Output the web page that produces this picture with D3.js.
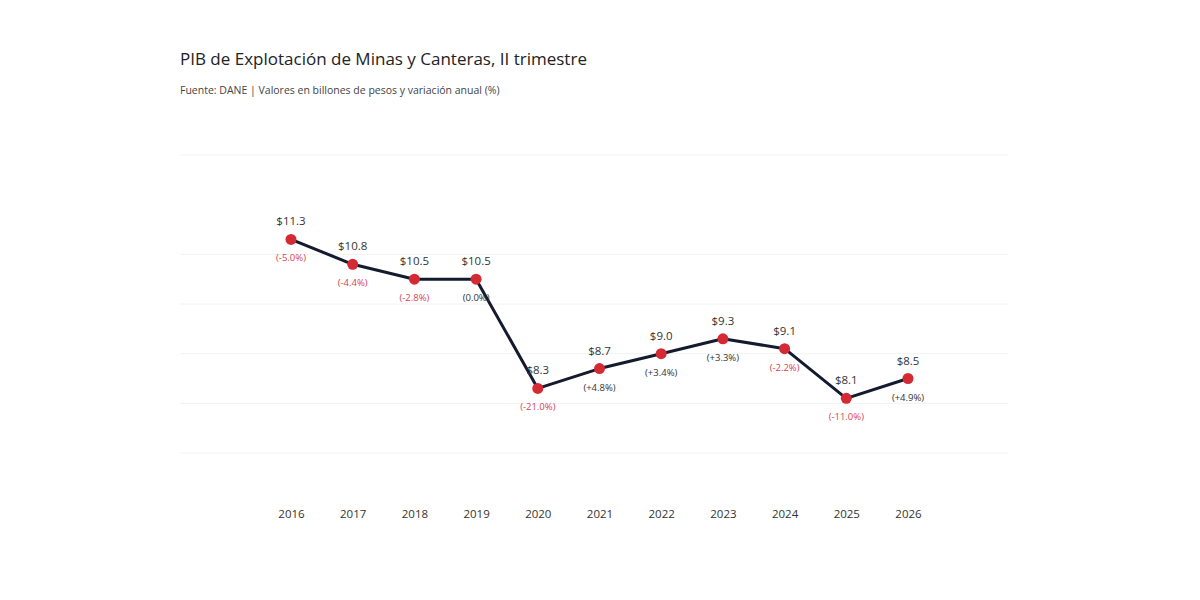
<!DOCTYPE html>
<html><head><meta charset="utf-8">
<script src="https://cdn.jsdelivr.net/npm/d3@7"></script>
<style>
html,body{margin:0;padding:0;background:#fff;}
svg{display:block;font-family:"Open Sans","Noto Sans",sans-serif;}
</style></head>
<body><svg id="c" width="1200" height="600"></svg>
<script>
const years = ["2016","2017","2018","2019","2020","2021","2022","2023","2024","2025","2026"];
const values = [11.3,10.8,10.5,10.5,8.3,8.7,9.0,9.3,9.1,8.1,8.5];
const changes = [-5.0,-4.4,-2.8,0.0,-21.0,4.8,3.4,3.3,-2.2,-11.0,4.9];
const gridTicks = [7,8,9,10,11,13];
const yDomain = [7,13];

(function(){
const svg = d3.select("#c");
const gLeft = 180, gRight = 1008, pTop = 155, pBottom = 453;

const x = d3.scalePoint().domain(years).range([291, 908]);
const y = d3.scaleLinear().domain(yDomain).range([pBottom, pTop]);

svg.append("text").attr("x",180).attr("y",65).attr("font-size",17).attr("fill","#222")
  .text("PIB de Explotación de Minas y Canteras, II trimestre");
svg.append("text").attr("x",180).attr("y",94).attr("font-size",10.5).attr("fill","#444")
  .text("Fuente: DANE | Valores en billones de pesos y variación anual (%)");

svg.append("g").selectAll("line").data(gridTicks).join("line")
  .attr("x1",gLeft).attr("x2",gRight)
  .attr("y1",d=>y(d)).attr("y2",d=>y(d))
  .attr("stroke","#f2f2f2").attr("stroke-width",1);

const xAxis = svg.append("g").attr("transform",`translate(0,${pBottom})`)
  .call(d3.axisBottom(x).tickSize(0).tickPadding(57));
xAxis.select(".domain").remove();
xAxis.selectAll("text").attr("font-size",11.5).attr("fill","#333")
  .attr("font-family","'Open Sans','Noto Sans',sans-serif");

const data = years.map((yr,i)=>({yr, v:values[i], c:changes[i]}));

svg.append("path").datum(data)
  .attr("fill","none").attr("stroke","#141b2e").attr("stroke-width",3)
  .attr("stroke-linejoin","round")
  .attr("d", d3.line().x(d=>x(d.yr)).y(d=>y(d.v)));

svg.append("g").selectAll("circle").data(data).join("circle")
  .attr("cx",d=>x(d.yr)).attr("cy",d=>y(d.v)).attr("r",5.5).attr("fill","#d42a33");

svg.append("g").selectAll("text").data(data).join("text")
  .attr("x",d=>x(d.yr)).attr("y",d=>y(d.v)-14).attr("text-anchor","middle")
  .attr("font-size",11.5).attr("fill","#333").text(d=>"$"+d.v.toFixed(1));

svg.append("g").selectAll("text").data(data).join("text")
  .attr("x",d=>x(d.yr)).attr("y",d=>y(d.v)+22).attr("text-anchor","middle")
  .attr("font-size",9.5).attr("fill",d=>d.c<0?"#d9434e":"#333")
  .text(d=>"("+(d.c>0?"+":"")+d.c.toFixed(1)+"%)");
})();
</script></body></html>
